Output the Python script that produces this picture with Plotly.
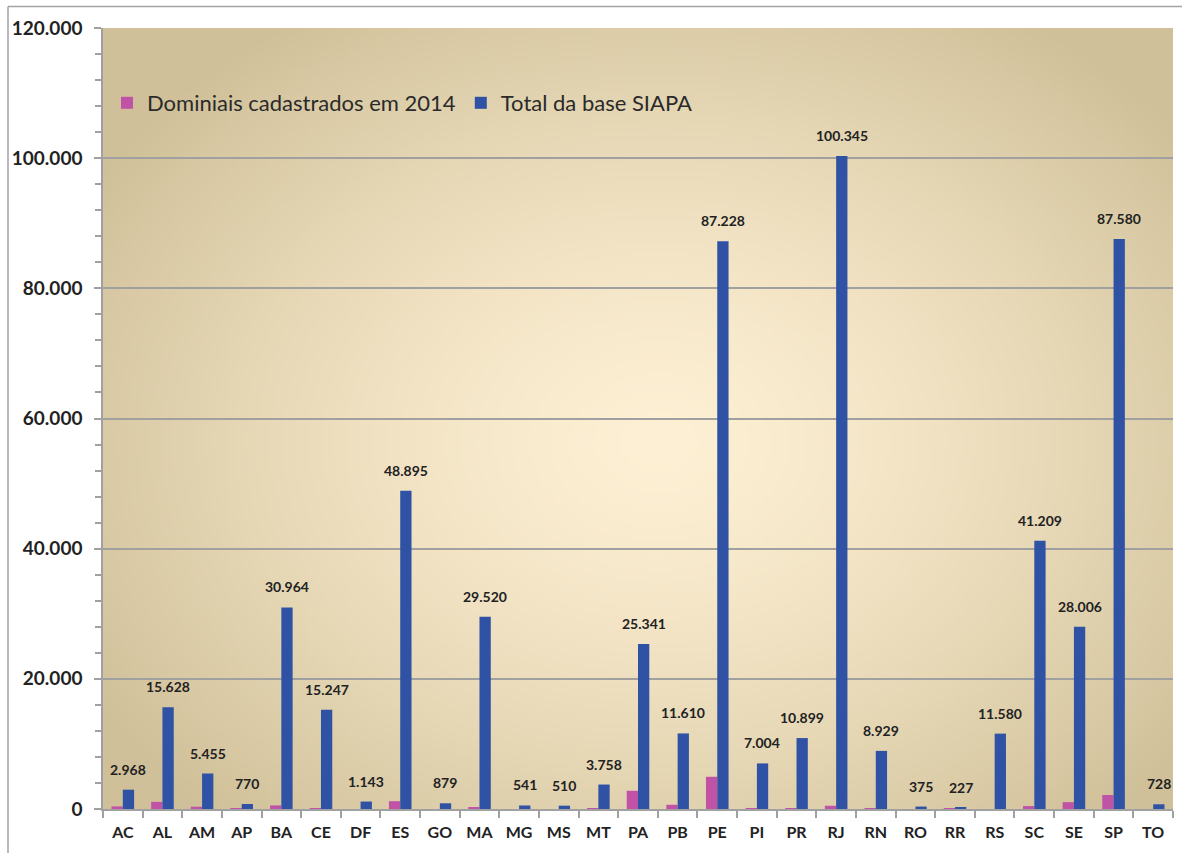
import base64, struct, zlib
import numpy as np
import plotly.graph_objects as go

states = ["AC","AL","AM","AP","BA","CE","DF","ES","GO","MA","MG","MS","MT","PA",
          "PB","PE","PI","PR","RJ","RN","RO","RR","RS","SC","SE","SP","TO"]
total_siapa = [2968,15628,5455,770,30964,15247,1143,48895,879,29520,541,510,3758,25341,
               11610,87228,7004,10899,100345,8929,375,227,11580,41209,28006,87580,728]
dominiais_2014 = [400,1100,350,100,550,150,0,1200,0,250,0,0,80,2800,
                  650,4950,100,100,500,100,0,80,0,450,1050,2150,0]
y_ticks = [0,20000,40000,60000,80000,100000,120000]

FONT = "Lato, 'Open Sans', sans-serif"
TXT = "#222222"

# --- radial gradient background image (style only) ---
W, H = 240, 176
yy, xx = np.mgrid[0:H, 0:W]
nx = (xx + 0.5) / W - 0.52
ny = (yy + 0.5) / H - 0.53
d = np.sqrt((nx / 0.62) ** 2 + (ny / 0.66) ** 2)
t = np.clip(d, 0, 1) ** 1.4
c0 = np.array([254, 240, 212], float)
c1 = np.array([208, 192, 153], float)
img = (c0[None, None, :] * (1 - t[..., None]) + c1[None, None, :] * t[..., None]).astype(np.uint8)
raw = b"".join(b"\x00" + img[r].tobytes() for r in range(H))
def chunk(tag, data):
    return struct.pack(">I", len(data)) + tag + data + struct.pack(">I", zlib.crc32(tag + data) & 0xffffffff)
png = b"\x89PNG\r\n\x1a\n" + chunk(b"IHDR", struct.pack(">IIBBBBB", W, H, 8, 2, 0, 0, 0)) \
      + chunk(b"IDAT", zlib.compress(raw, 9)) + chunk(b"IEND", b"")
bg_uri = "data:image/png;base64," + base64.b64encode(png).decode()

fig = go.Figure()
fig.add_trace(go.Bar(x=states, y=dominiais_2014, name="Dominiais cadastrados em 2014",
                     marker=dict(color="#C053A6", line=dict(width=0))))
fig.add_trace(go.Bar(x=states, y=total_siapa, name="Total da base SIAPA",
                     marker=dict(color="#2F52A4", line=dict(width=0))))

for s, v in zip(states, total_siapa):
    fig.add_annotation(x=s, y=v, text=f"{v:,}".replace(",", "."), showarrow=False,
                       xref="x", yref="y", xanchor="center", yanchor="bottom",
                       xshift=5.6, yshift=10,
                       font=dict(family=FONT, size=14, color=TXT, weight="bold"))

fig.add_layout_image(dict(source=bg_uri, xref="paper", yref="paper", x=0, y=1,
                          sizex=1, sizey=1, sizing="stretch", layer="below", xanchor="left", yanchor="top"))

# outer chart frame (top and left edges)
L, R, T, B = 103, 1173, 28, 809
def px(x): return (x - L) / (R - L)
def py(y): return (B - y) / (B - T)
fig.add_shape(type="line", xref="paper", yref="paper", x0=px(8), x1=px(1182), y0=py(6.5), y1=py(6.5),
              line=dict(color="#A2A2A8", width=1.5))
fig.add_shape(type="line", xref="paper", yref="paper", x0=px(8), x1=px(8), y0=py(6.5), y1=py(853),
              line=dict(color="#A2A2A8", width=1.5))

fig.update_layout(
    width=1182, height=853,
    margin=dict(l=L, r=1182 - R, t=T, b=853 - B),
    paper_bgcolor="white", plot_bgcolor="rgba(0,0,0,0)",
    separators=",.",
    barmode="group", bargap=0.43, bargroupgap=0,
    font=dict(family=FONT, color=TXT),
    showlegend=True,
    legend=dict(orientation="h", x=px(107), y=py(103), xanchor="left", yanchor="middle",
                bgcolor="rgba(0,0,0,0)", font=dict(family=FONT, size=22, color="#2a2a2a"),
                traceorder="normal"),
    xaxis=dict(showline=True, linecolor="#A0A0A0", linewidth=1.5, ticks="outside",
               tickson="boundaries", ticklen=7, tickcolor="#A0A0A0", tickwidth=1.5,
               ticklabelstandoff=8,
               tickfont=dict(family=FONT, size=16, color=TXT, weight="bold"),
               showgrid=False),
    yaxis=dict(range=[0, 120000], tickvals=y_ticks, tickformat=",d",
               showline=True, linecolor="#A0A0A0", linewidth=1.5, ticks="outside",
               ticklen=7, tickcolor="#A0A0A0", tickwidth=1.5,
               minor=dict(dtick=4000, ticks="outside", ticklen=6, tickcolor="#A0A0A0", tickwidth=1.5,
                          showgrid=False),
               showgrid=True, gridcolor="#A0A0A0", gridwidth=1.5, zeroline=False,
               ticklabelstandoff=8,
               tickfont=dict(family=FONT, size=19, color=TXT, weight="bold")),
)

fig.write_html("out.html", config={"displayModeBar": False},
               post_script="document.body.style.margin='0';document.body.style.overflow='hidden';")
